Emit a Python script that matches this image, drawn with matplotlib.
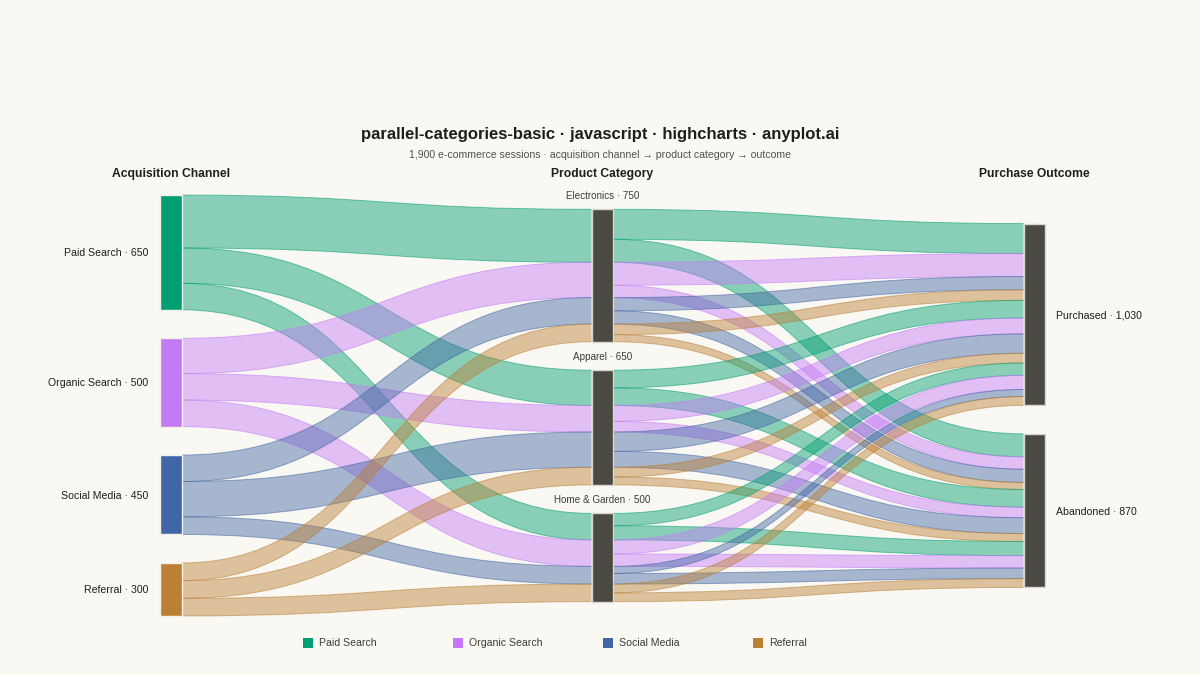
import matplotlib.pyplot as plt
from matplotlib.path import Path
from matplotlib.patches import PathPatch, Rectangle

plt.rcParams['font.family'] = ['Liberation Sans', 'DejaVu Sans']

# data
channels = ['Paid Search', 'Organic Search', 'Social Media', 'Referral']
categories = ['Electronics', 'Apparel', 'Home & Garden']
outcomes = ['Purchased', 'Abandoned']
channel_colors = ['#009E73', '#C47AF7', '#4166A5', '#BB7F35']

# sessions per channel -> category (rows: channels, cols: categories)
purchased = [[170, 100, 70],
             [130, 90, 80],
             [75, 110, 40],
             [60, 55, 50]]
abandoned = [[130, 100, 80],
             [70, 60, 70],
             [75, 90, 60],
             [40, 45, 50]]

# layout (pixel-like units)
W, H = 1200, 675
scale = 0.1765
gap = 28.5
center_y = 405.5
col_x = [160, 591.5, 1023.5]
node_w = 21.5
bg = '#FAF8F2'
node_dark = '#4A4A43'

fig = plt.figure(figsize=(12, 6.75), dpi=100, facecolor=bg)
ax = fig.add_axes([0, 0, 1, 1])
ax.set_xlim(0, W)
ax.set_ylim(H, 0)
ax.axis('off')

nc, nk, no = len(channels), len(categories), len(outcomes)
flows = [[[purchased[i][j], abandoned[i][j]] for j in range(nk)] for i in range(nc)]

ch_tot = [sum(sum(f) for f in flows[i]) for i in range(nc)]
cat_tot = [sum(sum(flows[i][j]) for i in range(nc)) for j in range(nk)]
out_tot = [sum(flows[i][j][o] for i in range(nc) for j in range(nk)) for o in range(no)]


def node_tops(totals):
    height = sum(totals) * scale + gap * (len(totals) - 1)
    y = center_y - height / 2
    tops = []
    for t in totals:
        tops.append(y)
        y += t * scale + gap
    return tops


ch_top = node_tops(ch_tot)
cat_top = node_tops(cat_tot)
out_top = node_tops(out_tot)


def band(x0, y0, x1, y1, v, color):
    h = v * scale
    xm = (x0 + x1) / 2
    verts = [(x0, y0), (xm, y0), (xm, y1), (x1, y1),
             (x1, y1 + h),
             (xm, y1 + h), (xm, y0 + h), (x0, y0 + h),
             (x0, y0)]
    codes = [Path.MOVETO, Path.CURVE4, Path.CURVE4, Path.CURVE4,
             Path.LINETO,
             Path.CURVE4, Path.CURVE4, Path.CURVE4,
             Path.CLOSEPOLY]
    ax.add_patch(PathPatch(Path(verts, codes), facecolor=color, alpha=0.45,
                           edgecolor='none', zorder=2))
    for (a, b) in [(y0, y1), (y0 + h, y1 + h)]:
        p = Path([(x0, a), (xm, a), (xm, b), (x1, b)],
                 [Path.MOVETO, Path.CURVE4, Path.CURVE4, Path.CURVE4])
        ax.add_patch(PathPatch(p, facecolor='none', edgecolor=color,
                               alpha=0.55, lw=0.7, zorder=2))


# channel -> category
ch_off = list(ch_top)
cat_in = list(cat_top)
for i in range(nc):
    for j in range(nk):
        v = sum(flows[i][j])
        band(col_x[0] + node_w, ch_off[i], col_x[1], cat_in[j], v, channel_colors[i])
        ch_off[i] += v * scale
        cat_in[j] += v * scale

# category -> outcome
cat_out = list(cat_top)
out_in = {}
oy = list(out_top)
for o in range(no):
    for j in range(nk):
        for i in range(nc):
            out_in[(i, j, o)] = oy[o]
            oy[o] += flows[i][j][o] * scale
for j in range(nk):
    for i in range(nc):
        for o in range(no):
            v = flows[i][j][o]
            band(col_x[1] + node_w, cat_out[j], col_x[2], out_in[(i, j, o)], v,
                 channel_colors[i])
            cat_out[j] += v * scale

# nodes
for i in range(nc):
    h = ch_tot[i] * scale
    ax.add_patch(Rectangle((col_x[0], ch_top[i]), node_w, h, facecolor=channel_colors[i],
                           edgecolor='#F4F1E8', lw=1, zorder=3))
    ax.text(col_x[0] - 12, ch_top[i] + h / 2 + 1, f'{channels[i]} · {ch_tot[i]:,}',
            ha='right', va='center', fontsize=7.6, color='#1E1E1E', zorder=4)
for j in range(nk):
    h = cat_tot[j] * scale
    ax.add_patch(Rectangle((col_x[1], cat_top[j]), node_w, h, facecolor=node_dark,
                           edgecolor='#D8D6CE', lw=1, zorder=3))
    ax.text(col_x[1] + node_w / 2, cat_top[j] - 8, f'{categories[j]} · {cat_tot[j]:,}',
            ha='center', va='bottom', fontsize=7.1, color='#3C3C3C', zorder=4)
for o in range(no):
    h = out_tot[o] * scale
    ax.add_patch(Rectangle((col_x[2], out_top[o]), node_w, h, facecolor=node_dark,
                           edgecolor='#D8D6CE', lw=1, zorder=3))
    ax.text(col_x[2] + node_w + 11, out_top[o] + h / 2 + 1, f'{outcomes[o]} · {out_tot[o]:,}',
            ha='left', va='center', fontsize=7.6, color='#1E1E1E', zorder=4)

# column headers
headers = ['Acquisition Channel', 'Product Category', 'Purchase Outcome']
for x, t in zip(col_x, headers):
    ax.text(x + node_w / 2, 174, t, ha='center', va='center', fontsize=8.7,
            fontweight='bold', color='#1E1E1E')

# title
ax.text(600, 134, 'parallel-categories-basic · javascript · highcharts · anyplot.ai',
        ha='center', va='center', fontsize=12, fontweight='bold', color='#1E1E1E')
ax.text(600, 155, '1,900 e-commerce sessions · acquisition channel → product category → outcome',
        ha='center', va='center', fontsize=7.6, color='#505050')

# legend
for k, (name, c) in enumerate(zip(channels, channel_colors)):
    lx = 303 + 150 * k
    ax.add_patch(Rectangle((lx, 638), 10, 10, facecolor=c, edgecolor='none'))
    ax.text(lx + 16, 643, name, ha='left', va='center', fontsize=7.6, color='#3C3C3C')

fig.savefig('out.png', dpi=100, facecolor=bg)
